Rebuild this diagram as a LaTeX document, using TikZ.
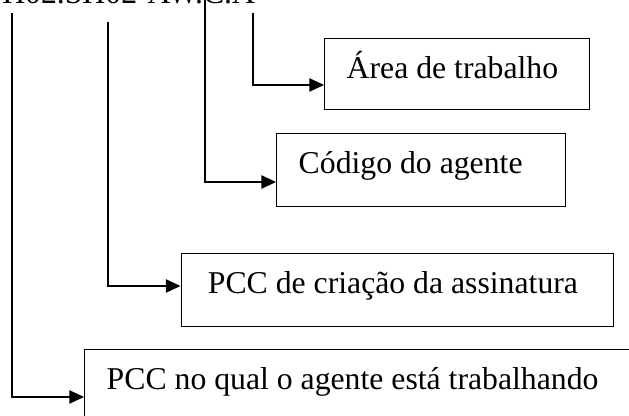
\documentclass[tikz,border=0pt]{standalone}
\usepackage{fontspec}
\setmainfont{Liberation Serif}
\usetikzlibrary{arrows.meta,calc}

\begin{document}
\begin{tikzpicture}[x=0.75pt,y=-0.75pt,
  campo/.style={draw,line width=1.1pt,anchor=north west,align=flush left,
    inner xsep=16.5pt,inner ysep=0pt,text height=30pt,
    font=\fontsize{23.8}{28}\selectfont},
  seta/.style={line width=1.1pt,-{Triangle[length=11pt,width=10pt]}}]

\useasboundingbox (0,0) rectangle (629,416);
\clip (0,0) rectangle (629,416);

% Code being explained
\node[anchor=base west,inner sep=0pt,font=\fontsize{23.8}{28}\selectfont] (codigo) at (2,4) {H02.SH02-AW.C.A};

% Tops of the lines
\coordinate (t1) at (12,13);
\coordinate (t2) at (108,22);
\coordinate (t3) at (205,0);
\coordinate (t4) at (253,13);

% Boxes
\node[campo,text width=165.75pt,text depth=23.25pt] (area) at (324,38) {\mbox{Área de trabalho}};
\node[campo,text width=183.75pt,text depth=24.75pt] (agente) at (276,133) {\mbox{Código do agente}};
\node[campo,inner xsep=20pt,text width=284pt,text depth=24.75pt] (criacao) at (180.5,253) {\mbox{PCC de criação da assinatura}};
\node[campo,text width=387pt,text depth=30pt] (pcc) at (84,349) {\mbox{PCC no qual o agente está trabalhando}};

% Connectors
\draw[seta] (t4) |- ($(area.north west)+(0,47)$);
\draw[seta] (t3) |- ($(agente.north west)+(0,49)$);
\draw[seta] (t2) |- ($(criacao.north west)+(0,33)$);
\draw[seta] (t1) |- ($(pcc.north west)+(0,48)$);

\end{tikzpicture}
\end{document}
